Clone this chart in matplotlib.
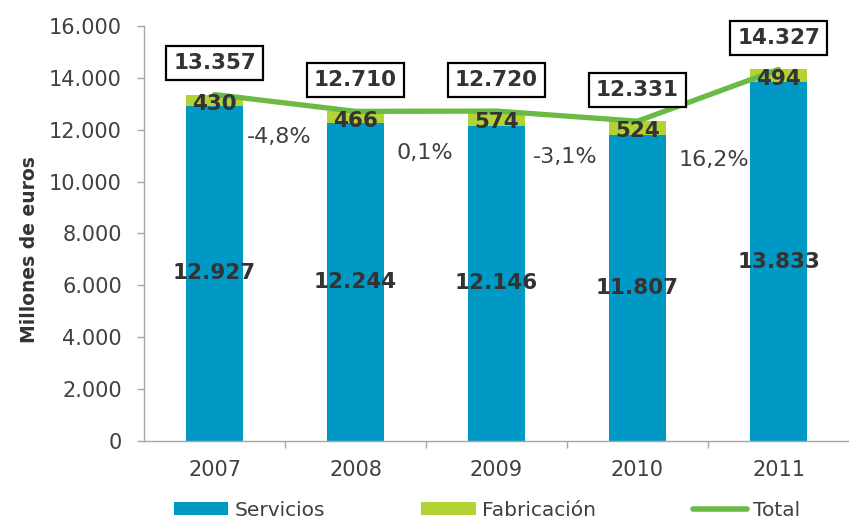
import matplotlib
matplotlib.use("Agg")
import matplotlib.pyplot as plt
import numpy as np
from matplotlib.patches import Patch
from matplotlib.lines import Line2D
from matplotlib.ticker import FuncFormatter, FixedLocator

# ------------------------------------------------------------------ data
years = ["2007", "2008", "2009", "2010", "2011"]
servicios = [12927, 12244, 12146, 11807, 13833]
fabricacion = [430, 466, 574, 524, 494]
total = [13357, 12710, 12720, 12331, 14327]
change_labels = ["-4,8%", "0,1%", "-3,1%", "16,2%"]

# ------------------------------------------------------------------ style
BLUE = "#0099c6"
LIME = "#b3d335"
LINE = "#6bba46"
TXT = "#404040"
LAB = "#333333"
SPINE = "#a6a6a6"

plt.rcParams["font.family"] = ["DejaVu Sans"]


def miles(v, _pos=None):
    return f"{int(v):,}".replace(",", ".")


fig = plt.figure(figsize=(8.49, 5.20), dpi=100)
ax = fig.add_axes([144 / 849, 1 - 441 / 520, 705 / 849, 415 / 520])

x = np.arange(len(years))
ax.bar(x, servicios, width=0.41, color=BLUE, zorder=2)
ax.bar(x, fabricacion, width=0.41, bottom=servicios, color=LIME, zorder=2)
ax.plot(x, total, color=LINE, lw=3.8, solid_capstyle="round", zorder=3)

ax.set_xlim(-0.5, len(years) - 0.5)
ax.set_ylim(0, 16000)
ax.set_yticks(np.arange(0, 16001, 2000))
ax.yaxis.set_major_formatter(FuncFormatter(miles))
ax.set_xticks(x)
ax.set_xticklabels(years)
ax.xaxis.set_minor_locator(FixedLocator(np.arange(0.5, len(years) - 0.5, 1.0)))

for side in ("top", "right"):
    ax.spines[side].set_visible(False)
for side in ("left", "bottom"):
    ax.spines[side].set_color(SPINE)
    ax.spines[side].set_linewidth(1.0)
ax.tick_params(axis="y", length=5, width=1, color=SPINE, pad=11,
               labelsize=15, labelcolor=TXT)
ax.tick_params(axis="x", which="major", length=0, pad=14,
               labelsize=15, labelcolor=TXT)
ax.tick_params(axis="x", which="minor", length=5, width=1, color=SPINE)

# segment labels
for i in x:
    ax.annotate(miles(servicios[i]), (i, servicios[i] / 2), ha="center",
                va="center", fontsize=15.5, fontweight="bold", color=LAB,
                zorder=4)
    ax.annotate(miles(fabricacion[i]), (i, servicios[i] + fabricacion[i] / 2),
                xytext=(0, -2.5), textcoords="offset points", ha="center",
                va="center", fontsize=15.5, fontweight="bold", color=LAB,
                zorder=4)
    ax.annotate(miles(total[i]), (i, total[i]), xytext=(0, 22.5),
                textcoords="offset points", ha="center", va="center",
                fontsize=15.5, fontweight="bold", color=LAB, zorder=5,
                bbox=dict(boxstyle="square,pad=0.32", facecolor="white",
                          edgecolor="black", linewidth=1.6))

# year-over-year change labels, sitting between the bars
chg_x = [0.46, 1.49, 2.49, 3.54]
chg_y = [11720, 11100, 10950, 10830]
for lbl, cx, cy in zip(change_labels, chg_x, chg_y):
    ax.text(cx, cy, lbl, ha="center", va="center", fontsize=16, color=TXT,
            zorder=4)

fig.text(30 / 849, 1 - 250 / 520, "Millones de euros", rotation=90,
         ha="center", va="center", fontsize=13.5, fontweight="bold",
         color=LAB)

handles = [Patch(facecolor=BLUE, edgecolor="none"),
           Patch(facecolor=LIME, edgecolor="none"),
           Line2D([], [], color=LINE, lw=4, solid_capstyle="round")]
leg = fig.legend(handles, ["Servicios", "Fabricación", "Total"], ncol=3,
                 loc="center", bbox_to_anchor=(487 / 849, 1 - 510 / 520),
                 frameon=False, fontsize=14.5, handlelength=2.7,
                 handleheight=0.6, handletextpad=0.3, columnspacing=4.8,
                 borderpad=0, borderaxespad=0)
for t in leg.get_texts():
    t.set_color(TXT)

fig.savefig("out.png", dpi=100)
